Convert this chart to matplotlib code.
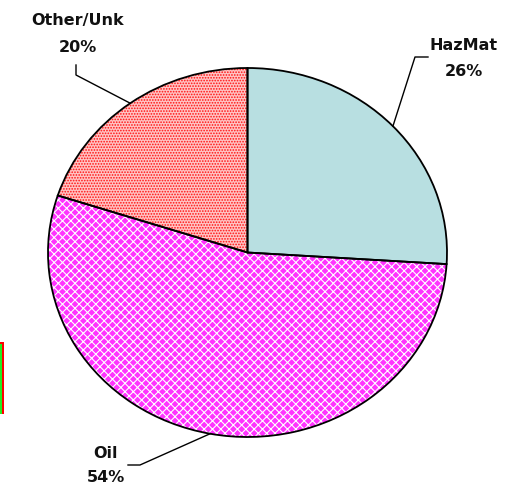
import numpy as np
import matplotlib.pyplot as plt
from matplotlib.lines import Line2D
from matplotlib.patches import Rectangle

# data
labels = ["HazMat", "Oil", "Other/Unk"]
shares = [26, 54, 20]

face_colors = ["#B8DFE1", "#FF33FF", "#FFC4C4"]
hatches = [None, "xxxx", "......"]
hatch_colors = ["#B8DFE1", "#FFFFFF", "#FF1010"]

W, H = 529, 491
fig = plt.figure(figsize=(W / 100, H / 100), dpi=100)
plt.rcParams["hatch.linewidth"] = 0.8


def fx(px):
    return px / W


def fy(py):
    return 1 - py / H


# pie area in pixels (slightly elliptical, like the original)
left, right, top, bottom = 48, 447, 68, 437
ax = fig.add_axes([fx(left), fy(bottom), (right - left) / W, (bottom - top) / H])

# fill + hatch pass
wedges, _ = ax.pie(shares, startangle=90, counterclock=False,
                   colors=face_colors, radius=1.0,
                   wedgeprops=dict(linewidth=0))
for w, h, hc in zip(wedges, hatches, hatch_colors):
    if h:
        w.set_hatch(h)
        w.set_edgecolor(hc)

# outline pass
ax.pie(shares, startangle=90, counterclock=False, radius=1.0,
       wedgeprops=dict(fill=False, edgecolor="black", linewidth=1.3))

ax.set_aspect("auto")
ax.set_xlim(-1, 1)
ax.set_ylim(-1, 1)
ax.axis("off")

# label positions (pixels): text centre x, first line y, second line y, leader elbow, leader end
label_pos = {
    "HazMat": dict(x=464, y1=45, y2=72, elbow=(415, 57), end=(428, 57)),
    "Oil": dict(x=106, y1=453, y2=478, elbow=(140, 465), end=(128, 465)),
    "Other/Unk": dict(x=78, y1=20, y2=47, elbow=(76, 75), end=(76, 65)),
}

to_fig = fig.transFigure.inverted()
cum = 0
for lab, share in zip(labels, shares):
    mid = np.deg2rad(90 - (cum + share / 2) * 3.6)
    cum += share
    ax_pt = (np.cos(mid), np.sin(mid))
    fpt = to_fig.transform(ax.transData.transform(ax_pt))
    p = label_pos[lab]
    xs = [fpt[0], fx(p["elbow"][0]), fx(p["end"][0])]
    ys = [fpt[1], fy(p["elbow"][1]), fy(p["end"][1])]
    fig.add_artist(Line2D(xs, ys, color="black", linewidth=1.0))
    fig.text(fx(p["x"]), fy(p["y1"]), lab, ha="center", va="center",
             fontsize=11.5, fontweight="bold", color="#111111")
    fig.text(fx(p["x"]), fy(p["y2"]), f"{share}%", ha="center", va="center",
             fontsize=11.5, fontweight="bold", color="#111111")

# cut-off legend frame on the left edge
fig.add_artist(Rectangle((fx(-10), fy(414)), (14) / W, (414 - 342) / H,
                         transform=fig.transFigure, facecolor="#FF0000",
                         edgecolor="none"))
fig.add_artist(Rectangle((fx(-10), fy(414)), (12) / W, (414 - 344) / H,
                         transform=fig.transFigure, facecolor="#22EE22",
                         edgecolor="none"))

fig.savefig("out.png", dpi=100)
